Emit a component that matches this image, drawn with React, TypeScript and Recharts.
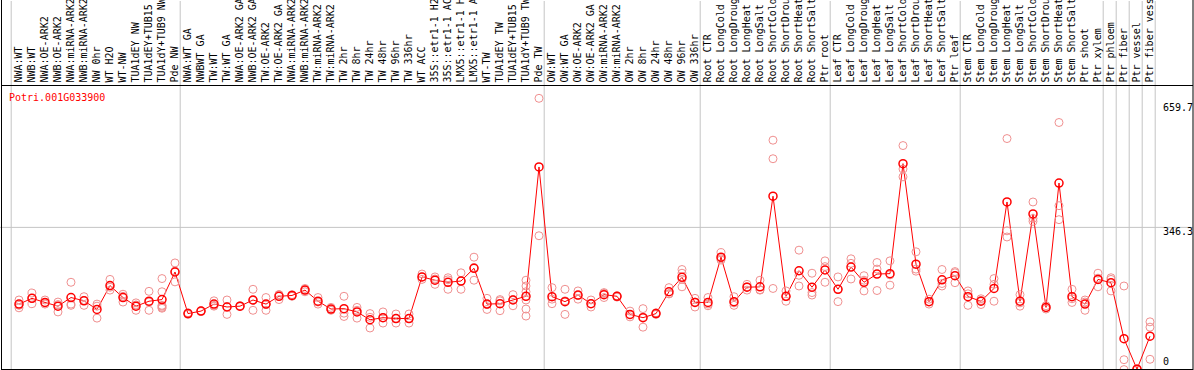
import React from 'react';
import { ComposedChart, Line, Scatter, XAxis, YAxis, ReferenceLine } from 'recharts';

const W = 1194;
const H = 370;
const FONT = "'DejaVu Sans Mono', 'Liberation Mono', monospace";

const geneId = 'Potri.001G033900';

const categories = [
  'NWA:WT', 'NWB:WT', 'NWA:OE-ARK2', 'NWB:OE-ARK2', 'NWA:miRNA-ARK2', 'NWB:miRNA-ARK2', 'NW 0hr', 'WT H2O', 'WT-NW',
  'TUA1dEY NW', 'TUA1dEY+TUB15', 'TUA1dY+TUB9 NW', 'Pde NW',
  'NWA:WT GA', 'NWBWT GA', 'TW:WT', 'TW:WT GA', 'NWA:OE-ARK2 GA', 'NWB:OE-ARK2 GA', 'TW:OE-ARK2', 'TW:OE-ARK2 GA',
  'NWA:miRNA-ARK2', 'NWB:miRNA-ARK2', 'TW:miRNA-ARK2', 'TW:miRNA-ARK2', 'TW 2hr', 'TW 8hr', 'TW 24hr', 'TW 48hr',
  'TW 96hr', 'TW 336hr', 'WT ACC', '35S::etr1-1 H2O', '35S::etr1-1 ACC', 'LMX5::etr1-1 H2O', 'LMX5::etr1-1 ACC',
  'WT-TW', 'TUA1dEY TW', 'TUA1dEY+TUB15', 'TUA1dY+TUB9 TW', 'Pde TW',
  'OW:WT', 'OW:WT GA', 'OW:OE-ARK2', 'OW:OE-ARK2 GA', 'OW:miRNA-ARK2', 'OW:miRNA-ARK2', 'OW 2hr', 'OW 8hr',
  'OW 24hr', 'OW 48hr', 'OW 96hr', 'OW 336hr',
  'Root CTR', 'Root LongCold', 'Root LongDrought', 'Root LongHeat', 'Root LongSalt', 'Root ShortCold',
  'Root ShortDrought', 'Root ShortHeat', 'Root ShortSalt', 'Ptr root',
  'Leaf CTR', 'Leaf LongCold', 'Leaf LongDrought', 'Leaf LongHeat', 'Leaf LongSalt', 'Leaf ShortCold',
  'Leaf ShortDrought', 'Leaf ShortHeat', 'Leaf ShortSalt', 'Ptr leaf',
  'Stem CTR', 'Stem LongCold', 'Stem LongDrought', 'Stem LongHeat', 'Stem LongSalt', 'Stem ShortCold',
  'Stem ShortDrought', 'Stem ShortHeat', 'Stem ShortSalt', 'Ptr shoot', 'Ptr xylem',
  'Ptr phloem', 'Ptr fiber', 'Ptr vessel', 'Ptr fiber vessel',
];

const groupSizes = [13, 28, 12, 10, 10, 11, 1, 1, 1, 1];

const means = [
  160, 174, 164, 155, 176, 168, 147, 205, 176, 155, 167, 171, 238,
  137, 143, 160, 153, 155, 170, 160, 179, 181, 194, 167, 148, 149, 141, 122, 127, 125, 125,
  226, 218, 213, 216, 247, 160, 161, 170, 179, 493,
  178, 166, 182, 161, 183, 179, 135, 127, 137, 190, 225, 164,
  164, 274, 166, 201, 202, 422, 179, 241, 201, 243,
  196, 250, 213, 233, 234, 501, 257, 166, 219, 229,
  178, 167, 198, 408, 167, 379, 152, 454, 178, 160, 220,
  212, 76, 2, 82,
];

const replicates = [
  [170, 157, 151], [187, 161, 174], [170, 160, 163], [165, 141, 159], [213, 160, 157],
  [178, 157, 169], [160, 126, 155], [220, 194, 201], [184, 165, 179], [163, 145, 158],
  [191, 145, 165], [222, 190, 155, 152, 150, 157], [260, 214, 240],
  [139, 135], [144, 142], [168, 155, 157], [170, 135, 154], [156, 154], [196, 145, 169],
  [176, 145, 159], [183, 171, 183], [183, 179], [198, 190, 194], [176, 160, 165],
  [152, 145, 147], [179, 138, 130], [152, 126, 145], [137, 102, 128], [141, 114, 127],
  [136, 114, 125], [136, 114, 125], [233, 220, 226], [226, 208, 221], [224, 196, 219],
  [236, 196, 216], [274, 218, 249], [174, 147, 159], [171, 144, 168], [183, 156, 171],
  [218, 204, 190, 170, 148, 131], [659.7, 326],
  [200, 161, 172], [196, 135, 168], [192, 172, 181], [170, 153, 161], [188, 176, 186],
  [180, 177], [143, 129, 134], [149, 104, 128], [139, 135], [200, 185, 185],
  [244, 235, 202, 220], [174, 153, 165],
  [176, 156, 160], [285, 267, 270], [178, 157, 163], [208, 194, 202], [218, 194, 195],
  [558, 513, 198], [192, 167, 178], [291, 230, 204], [235, 188, 182], [265, 213, 251],
  [226, 166, 196], [270, 221, 259], [229, 192, 218], [261, 245, 193], [265, 206, 231],
  [545, 488, 469], [287, 245, 240], [172, 160, 166], [244, 204, 210], [239, 212, 236],
  [192, 157, 185], [173, 159, 169], [222, 208, 167], [562, 338, 323], [183, 155, 163],
  [408, 368, 361], [156, 148, 152], [601, 399, 365], [196, 164, 173], [170, 145, 165],
  [235, 202, 223],
  [224, 192, 220], [204, 25, 1], [3, 2, 1], [117, 104, 26],
];

const yTicks = [0, 346.3, 659.7];

const xDomain = [-0.4615, 91.3077];
const yDomain = [0, 896];

const meanData = categories.map((name, i) => ({ x: i + 1, y: means[i], name }));
const repData = replicates.flatMap((reps, i) => reps.map((v) => ({ x: i + 1, y: v })));
const xTicks = meanData.map((d) => d.x);
const boundaries = groupSizes.reduce<number[]>((acc, n) => {
  acc.push(acc[acc.length - 1] + n);
  return acc;
}, [0]);

const CategoryTick = (props: any) => {
  const { x, payload } = props;
  const label = categories[Number(payload.value) - 1] ?? '';
  return (
    <text
      transform={`translate(${x},82.5) rotate(-90)`}
      dy="0.35em"
      textAnchor="start"
      fontFamily={FONT}
      fontSize={10}
      fill="#000"
    >
      {label}
    </text>
  );
};

const ValueTick = (props: any) => {
  const { y, payload } = props;
  const baseline = Math.min(Math.max(y + 8, 111), 365);
  return (
    <text x={W - 31} y={baseline} textAnchor="start" fontFamily={FONT} fontSize={10} fill="#000">
      {String(payload.value)}
    </text>
  );
};

const RepDot = (p: any) => (
  <circle cx={p.cx} cy={p.cy} r={4} fill="none" stroke="#f09090" strokeWidth={1} />
);

export default function App() {
  return (
    <div style={{ position: 'absolute', left: 0, top: 0, width: W, height: H, background: '#fff' }}>
      <ComposedChart width={W} height={H} data={meanData} margin={{ top: 0, right: 0, bottom: 0, left: 0 }}>
        <XAxis
          type="number"
          dataKey="x"
          xAxisId="x"
          orientation="top"
          height={1}
          domain={xDomain}
          allowDataOverflow
          ticks={xTicks}
          interval={0}
          axisLine={false}
          tickLine={false}
          tick={<CategoryTick />}
        />
        <YAxis
          type="number"
          dataKey="y"
          yAxisId="y"
          orientation="right"
          width={1}
          domain={yDomain}
          allowDataOverflow
          ticks={yTicks}
          interval={0}
          axisLine={false}
          tickLine={false}
          tick={<ValueTick />}
        />
        {boundaries.map((b) => (
          <ReferenceLine key={`g${b}`} xAxisId="x" yAxisId="y" x={b + 0.4} stroke="#c4c4c4" strokeWidth={1} />
        ))}
        <ReferenceLine xAxisId="x" yAxisId="y" y={yTicks[1]} stroke="#c4c4c4" strokeWidth={1} />
        <Scatter
          xAxisId="x"
          yAxisId="y"
          data={repData}
          dataKey="y"
          shape={<RepDot />}
          isAnimationActive={false}
        />
        <Line
          xAxisId="x"
          yAxisId="y"
          type="linear"
          dataKey="y"
          stroke="#ff0000"
          strokeWidth={1}
          dot={{ r: 4, stroke: '#ff0000', strokeWidth: 1.5, fill: 'none' }}
          activeDot={false}
          isAnimationActive={false}
        />
      </ComposedChart>
      <svg
        width={W}
        height={H}
        style={{ position: 'absolute', left: 0, top: 0, pointerEvents: 'none' }}
      >
        <line x1={1.5} y1={0} x2={1.5} y2={H} stroke="#000" strokeWidth={1} />
        <line x1={W - 1} y1={0} x2={W - 1} y2={H} stroke="#000" strokeWidth={1} />
        <line x1={1} y1={369.5} x2={W - 1} y2={369.5} stroke="#000" strokeWidth={1} />
        <line x1={1} y1={85.5} x2={W - 1} y2={85.5} stroke="#000" strokeWidth={1} />
        <text x={9} y={101} fontFamily={FONT} fontSize={10} fill="#ff0000">
          {geneId}
        </text>
      </svg>
    </div>
  );
}
